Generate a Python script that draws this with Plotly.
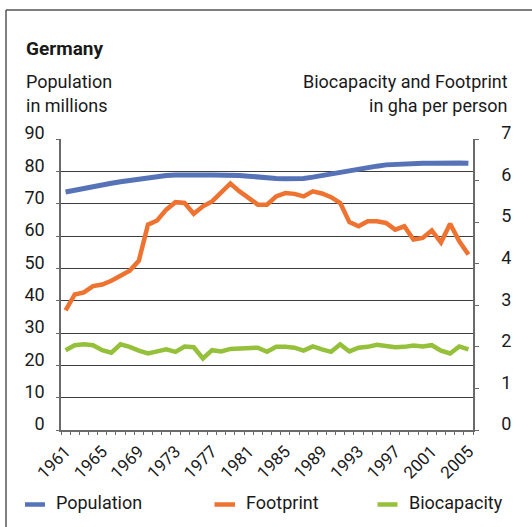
import plotly.graph_objects as go

# Germany: population (millions) vs. ecological footprint and biocapacity (gha per person)
years = list(range(1961, 2006))

population = [
    73.6, 74.2, 74.8, 75.3, 75.8, 76.3, 76.8, 77.2, 77.7, 78.1,
    78.5, 78.7, 78.9, 79.0, 78.9, 78.9, 78.9, 78.9, 78.8, 78.7,
    78.5, 78.2, 78.0, 77.8, 77.7, 77.7, 77.8, 78.2, 78.7, 79.3,
    79.9, 80.4, 80.9, 81.2, 81.6, 82.0, 82.2, 82.3, 82.4, 82.5,
    82.5, 82.6, 82.6, 82.6, 82.5,
]

footprint = [
    2.88, 3.26, 3.31, 3.46, 3.50, 3.59, 3.71, 3.83, 4.07, 4.94,
    5.04, 5.30, 5.48, 5.46, 5.20, 5.38, 5.50, 5.70, 5.93, 5.74,
    5.58, 5.42, 5.42, 5.62, 5.70, 5.68, 5.62, 5.74, 5.69, 5.60,
    5.46, 5.00, 4.90, 5.02, 5.02, 4.98, 4.82, 4.90, 4.58, 4.62,
    4.80, 4.51, 4.96, 4.54, 4.22,
]

biocapacity = [
    1.92, 2.04, 2.06, 2.04, 1.92, 1.86, 2.06, 2.00, 1.91, 1.84,
    1.89, 1.94, 1.88, 2.01, 1.99, 1.72, 1.92, 1.89, 1.95, 1.96,
    1.98, 1.98, 1.88, 2.00, 2.00, 1.98, 1.91, 2.01, 1.94, 1.88,
    2.06, 1.89, 1.98, 2.00, 2.05, 2.01, 1.99, 2.00, 2.03, 2.01,
    2.04, 1.91, 1.84, 2.01, 1.94,
]

label_years = list(range(1961, 2006, 4))
series_names = ["Population", "Footprint", "Biocapacity"]
colors = ["#5673b8", "#ee7230", "#95c03a"]

W, H = 532, 527
ML, MR, MT, MB = 61, 59, 139, 97
PW, PH = W - ML - MR, H - MT - MB
FONT = "Roboto"
TXT = "#1a1a1a"


def px(x):
    return (x - ML) / PW


def py(y):
    return (H - MB - y) / PH


fig = go.Figure()
fig.add_trace(go.Scatter(x=years, y=population, name=series_names[0], mode="lines",
                         line=dict(color=colors[0], width=5), yaxis="y"))
fig.add_trace(go.Scatter(x=years, y=footprint, name=series_names[1], mode="lines",
                         line=dict(color=colors[1], width=4.5), yaxis="y2"))
fig.add_trace(go.Scatter(x=years, y=biocapacity, name=series_names[2], mode="lines",
                         line=dict(color=colors[2], width=4.5), yaxis="y2"))

axis_col = "#6a6a6a"

fig.update_layout(
    width=W, height=H,
    margin=dict(l=ML, r=MR, t=MT, b=MB, autoexpand=False),
    paper_bgcolor="white", plot_bgcolor="white",
    showlegend=False,
    font=dict(family=FONT, size=17, color=TXT),
    xaxis=dict(
        range=[1960.5, 2005.5], tickmode="array", tickvals=label_years,
        ticktext=[str(y) for y in label_years], tickangle=-45,
        ticks="", showgrid=False, zeroline=False, automargin=False,
        showline=True, linecolor=axis_col, linewidth=1.5,
        ticklabelstandoff=3,
        tickfont=dict(family=FONT, size=17, color=TXT),
        minor=dict(tick0=1960.5, dtick=1, ticks="outside", ticklen=3,
                   tickcolor=axis_col, showgrid=False),
    ),
    yaxis=dict(
        range=[0, 90], dtick=10, showgrid=True, gridcolor="#3c3c3c", gridwidth=1,
        zeroline=False, showline=True, linecolor=axis_col, linewidth=1.5,
        ticks="outside", ticklen=3, tickcolor=axis_col, automargin=False,
        ticklabelshift=-6, ticklabelstandoff=8,
        tickfont=dict(family=FONT, size=18, color=TXT),
    ),
    yaxis2=dict(
        range=[0, 7], dtick=1, overlaying="y", side="right", showgrid=False,
        zeroline=False, showline=True, linecolor=axis_col, linewidth=1.5,
        ticks="outside", ticklen=4, tickcolor=axis_col, automargin=False,
        ticklabelshift=-6, ticklabelstandoff=19,
        tickfont=dict(family=FONT, size=18, color=TXT),
    ),
)

# frame lines (left and top edges of the panel)
fig.add_shape(type="line", xref="paper", yref="paper",
              x0=px(6), x1=px(6), y0=py(10), y1=py(540),
              line=dict(color="#555555", width=1.5))
fig.add_shape(type="line", xref="paper", yref="paper",
              x0=px(6), x1=px(545), y0=py(10), y1=py(10),
              line=dict(color="#555555", width=1.5))

# titles
fig.add_annotation(text="<b>Germany</b>", xref="paper", yref="paper",
                   x=px(24), y=py(48.5), xanchor="left", yanchor="middle",
                   showarrow=False, font=dict(family=FONT, size=19, color=TXT))
for txt, yy in [("Population", 81.5), ("in millions", 105)]:
    fig.add_annotation(text=txt, xref="paper", yref="paper",
                       x=px(24), y=py(yy), xanchor="left", yanchor="middle",
                       showarrow=False, font=dict(family=FONT, size=18, color=TXT))
for txt, yy in [("Biocapacity and Footprint", 81.5), ("in gha per person", 105)]:
    fig.add_annotation(text=txt, xref="paper", yref="paper",
                       x=px(510), y=py(yy), xanchor="right", yanchor="middle",
                       showarrow=False, font=dict(family=FONT, size=18, color=TXT))

# legend row
legend_pos = [(25, 45, 54), (214.5, 235, 243.5), (377.5, 397.5, 406.5)]
for name, col, (s0, s1, tx) in zip(series_names, colors, legend_pos):
    fig.add_shape(type="line", xref="paper", yref="paper",
                  x0=px(s0), x1=px(s1), y0=py(504.5), y1=py(504.5),
                  line=dict(color=col, width=4.5))
    fig.add_annotation(text=name, xref="paper", yref="paper",
                       x=px(tx), y=py(502), xanchor="left", yanchor="middle",
                       showarrow=False, font=dict(family=FONT, size=18, color=TXT))

fig.write_html("out.html")
